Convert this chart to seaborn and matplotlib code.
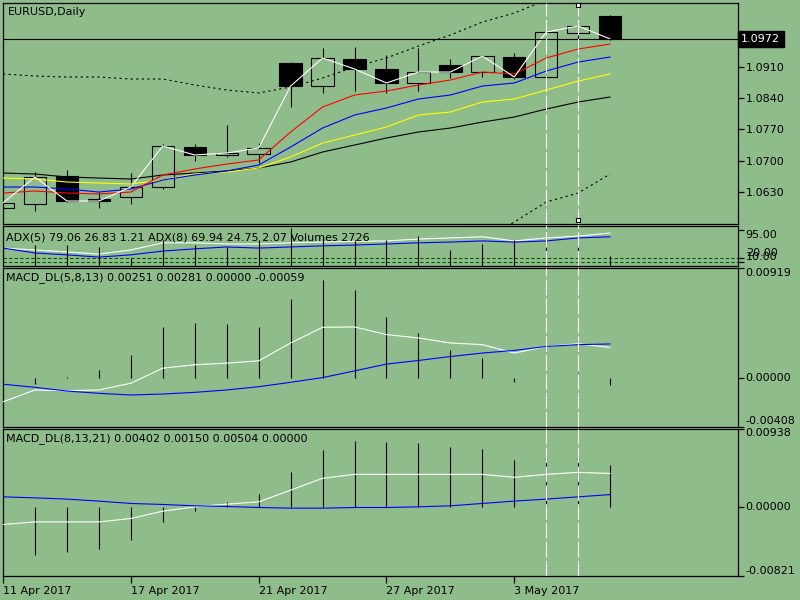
import numpy as np
import matplotlib
matplotlib.use('Agg')
import matplotlib.pyplot as plt
import matplotlib.transforms as mtransforms
import seaborn as sns

# ---------------- data ----------------
dates = ['11 Apr', '12 Apr', '13 Apr', '14 Apr', '17 Apr', '18 Apr', '19 Apr', '20 Apr',
         '21 Apr', '24 Apr', '25 Apr', '26 Apr', '27 Apr', '28 Apr', '1 May', '2 May',
         '3 May', '4 May', '5 May', '8 May']
opens = [1.05940, 1.06030, 1.06656, 1.06142, 1.06187, 1.06410, 1.07304, 1.07126, 1.07148, 1.09183,
         1.08668, 1.09272, 1.09049, 1.08736, 1.09138, 1.08981, 1.09317, 1.08870, 1.09854, 1.10234]
highs = [1.06080, 1.06745, 1.06790, 1.06298, 1.06723, 1.07372, 1.07372, 1.07796, 1.07394, 1.09210,
         1.09518, 1.09540, 1.09362, 1.09518, 1.09272, 1.09362, 1.09406, 1.09880, 1.10032, 1.10256]
lows = [1.05900, 1.05873, 1.06080, 1.05945, 1.06030, 1.06365, 1.06991, 1.07081, 1.06947, 1.08199,
        1.08512, 1.08557, 1.08512, 1.08557, 1.08847, 1.08870, 1.08825, 1.08758, 1.09496, 1.09700]
closes = [1.06052, 1.06634, 1.06097, 1.06097, 1.06410, 1.07327, 1.07126, 1.07170, 1.07282, 1.08668,
          1.09295, 1.09049, 1.08736, 1.08981, 1.08981, 1.09339, 1.08870, 1.09876, 1.10010, 1.09720]

ma_red = [1.06276, 1.06321, 1.06276, 1.06254, 1.06298, 1.06678, 1.06813, 1.06924, 1.07014, 1.07640,
          1.08199, 1.08467, 1.08557, 1.08691, 1.08803, 1.08981, 1.08937, 1.09295, 1.09496, 1.09608]
ma_blue = [1.06410, 1.06410, 1.06365, 1.06298, 1.06365, 1.06567, 1.06678, 1.06768, 1.06902, 1.07304,
           1.07729, 1.08020, 1.08177, 1.08378, 1.08467, 1.08668, 1.08736, 1.09004, 1.09205, 1.09317]
ma_yellow = [1.06611, 1.06589, 1.06522, 1.06500, 1.06477, 1.06567, 1.06701, 1.06745, 1.06835, 1.07081,
             1.07394, 1.07573, 1.07752, 1.08020, 1.08087, 1.08311, 1.08378, 1.08579, 1.08780, 1.08937]
ma_black = [1.06723, 1.06701, 1.06634, 1.06611, 1.06589, 1.06678, 1.06723, 1.06768, 1.06835, 1.06969,
            1.07193, 1.07349, 1.07506, 1.07640, 1.07729, 1.07863, 1.07975, 1.08154, 1.08311, 1.08423]
band_upper = [1.08937, 1.08892, 1.08870, 1.08870, 1.08825, 1.08825, 1.08691, 1.08579, 1.08512, 1.08646,
              1.08847, 1.09093, 1.09295, 1.09563, 1.09809, 1.10099, 1.10301, 1.10591, 1.10770, 1.10949]
band_lower_idx = [15, 16, 17, 18, 19]
band_lower = [1.05225, 1.05627, 1.06075, 1.06276, 1.06701]
last_price = 1.0972
price_ticks = [1.0630, 1.0700, 1.0770, 1.0840, 1.0910]

adx5 = [47, 42, 37, 31, 42, 61, 61, 58, 58, 61, 63, 65, 66, 71, 74, 77, 66, 74, 79, 87]
adx8 = [47, 34, 29, 23, 29, 39, 45, 50, 47, 50, 53, 55, 58, 61, 63, 66, 63, 66, 74, 77]
volumes = [5700, 5720, 5720, 5180, 2180, 7090, 5720, 5180, 7090, 10360,
           7630, 7090, 7090, 8180, 4360, 6000, 7090, 8450, 7630, 2726]
adx_levels = [20, 10]

macd1_main = [-0.00202, -0.00103, -0.00109, -0.00103, -0.00047, 0.00079, 0.00107, 0.00121, 0.00140, 0.00289,
              0.00420, 0.00423, 0.00359, 0.00331, 0.00289, 0.00275, 0.00205, 0.00260, 0.00283, 0.00251]
macd1_signal = [-0.00055, -0.00081, -0.00112, -0.00131, -0.00145, -0.00137, -0.00123, -0.00103, -0.00076, -0.00039,
                0.00000, 0.00056, 0.00113, 0.00143, 0.00176, 0.00205, 0.00227, 0.00260, 0.00275, 0.00281]
macd1_hist = [0.0, -0.00050, 0.00003, 0.00067, 0.00185, 0.00420, 0.00453, 0.00445, 0.00420, 0.00655,
              0.00815, 0.00730, 0.00507, 0.00370, 0.00227, 0.00160, -0.00040, 0.00023, 0.00037, -0.00059]

macd2_main = [-0.00207, -0.00176, -0.00176, -0.00176, -0.00135, -0.00048, 0.00004, 0.00036, 0.00063, 0.00203,
              0.00344, 0.00391, 0.00391, 0.00391, 0.00391, 0.00391, 0.00356, 0.00391, 0.00415, 0.00402]
macd2_signal = [0.00123, 0.00111, 0.00096, 0.00072, 0.00044, 0.00032, 0.00016, 0.00008, -0.00004, -0.00012,
                -0.00012, -0.00004, -0.00004, 0.00004, 0.00016, 0.00044, 0.00072, 0.00096, 0.00123, 0.00150]
macd2_hist = [0.0, -0.00566, -0.00535, -0.00495, -0.00395, -0.00176, -0.00048, 0.00056, 0.00156, 0.00415,
              0.00682, 0.00790, 0.00774, 0.00762, 0.00714, 0.00690, 0.00563, 0.00595, 0.00595, 0.00504]

time_tick_idx = [0, 4, 8, 12, 16]
time_tick_labels = ['11 Apr 2017', '17 Apr 2017', '21 Apr 2017', '27 Apr 2017', '3 May 2017']
vline_idx = [17, 18]

# ---------------- style ----------------
BG = '#8fbc8b'
sns.set_style('white')
plt.rcParams['font.family'] = ['DejaVu Sans']
plt.rcParams['font.size'] = 8

fig = plt.figure(figsize=(8, 6), dpi=100, facecolor=BG)
L, W = 3 / 800, 735 / 800


def mkax(top, bot):
    return fig.add_axes([L, 1 - bot / 600, W, (bot - top) / 600])


ax_p = mkax(2.5, 223.5)
ax_a = mkax(225.5, 266)
ax_m1 = mkax(267.5, 426.5)
ax_m2 = mkax(428.5, 576)
axes = [ax_p, ax_a, ax_m1, ax_m2]
x = np.arange(len(dates))
LW = 0.8

# volume twin (created first so the ADX axis can keep its right-side scale)
axv = ax_a.twinx()

for ax in axes:
    ax.set_facecolor(BG)
    ax.set_xlim(0, 23.0)
    for s in ax.spines.values():
        s.set_color('black')
        s.set_linewidth(0.9)
    ax.yaxis.set_ticks_position('right')
    ax.tick_params(axis='y', direction='out', length=4, width=0.9, pad=1.5,
                   labelsize=8, colors='black', left=False, labelleft=False,
                   right=True, labelright=True)
    ax.tick_params(axis='x', bottom=False, labelbottom=False)

# ---------------- price panel ----------------
o = np.array(opens); c = np.array(closes)
ax_p.vlines(x, lows, highs, color='black', lw=LW, zorder=1)
bull = c >= o
ax_p.bar(x, np.maximum(np.abs(c - o), 0.00003), bottom=np.minimum(o, c), width=0.7,
         color=[BG if b else 'black' for b in bull], edgecolor='black', linewidth=LW, zorder=2)
sns.lineplot(x=x, y=band_upper, ax=ax_p, color='black', linewidth=LW, linestyle=(0, (2, 3)), zorder=3)
sns.lineplot(x=band_lower_idx, y=band_lower, ax=ax_p, color='black', linewidth=LW, linestyle=(0, (2, 3)), zorder=3)
for vals, col in [(ma_black, 'black'), (ma_yellow, '#ffff00'), (ma_blue, '#0000ff'), (ma_red, '#ff0000')]:
    sns.lineplot(x=x, y=vals, ax=ax_p, color=col, linewidth=LW, zorder=3)
sns.lineplot(x=x, y=closes, ax=ax_p, color='white', linewidth=LW, zorder=4)
ax_p.axhline(last_price, color='black', lw=LW, zorder=4)
ax_p.set_ylim(1.05594, 1.10536)
ax_p.set_yticks(price_ticks)
ax_p.set_yticklabels([f'{v:.4f}' for v in price_ticks])
tr = mtransforms.blended_transform_factory(ax_p.transAxes, ax_p.transData)
ax_p.text(1.0045, last_price, f'{last_price:.4f}', transform=tr, ha='left', va='center',
          color='white', fontsize=8, zorder=10, clip_on=False,
          bbox=dict(boxstyle='square,pad=0.3', fc='black', ec='black'))

# ---------------- ADX panel ----------------
ax_a.set_ylim(-0.6, 107)
for lv in adx_levels:
    ax_a.axhline(lv, color='#005a00', lw=LW, linestyle=(0, (3, 2)), zorder=1)
sns.lineplot(x=x, y=adx5, ax=ax_a, color='white', linewidth=LW, zorder=3)
sns.lineplot(x=x, y=adx8, ax=ax_a, color='#0000ff', linewidth=LW, zorder=3)
adx_ticks = [10, 20, 95]
ax_a.set_yticks(adx_ticks)
ax_a.set_yticklabels([f'{v:.2f}' for v in adx_ticks])
for lab, va in zip(ax_a.get_yticklabels(), ['bottom', 'bottom', 'top']):
    lab.set_va(va)
axv.set_ylim(0, 11040)
axv.set_xlim(0, 23.0)
axv.vlines(x, 0, volumes, color='black', lw=LW)
axv.set_yticks([])
axv.tick_params(axis='both', left=False, right=False, labelleft=False, labelright=False,
                bottom=False, labelbottom=False)
for s in axv.spines.values():
    s.set_visible(False)

# ---------------- MACD panels ----------------
def macd_panel(ax, main, sig, hist, lo, hi):
    ax.vlines(x, 0, hist, color='black', lw=LW, zorder=2)
    sns.lineplot(x=x, y=main, ax=ax, color='white', linewidth=LW, zorder=3)
    sns.lineplot(x=x, y=sig, ax=ax, color='#0000ff', linewidth=LW, zorder=3)
    ax.set_ylim(lo, hi)
    ticks = [lo, 0.0, hi]
    ax.set_yticks(ticks)
    ax.set_yticklabels([f'{v:.5f}' for v in ticks])
    for lab, va in zip(ax.get_yticklabels(), ['bottom', 'center', 'top']):
        lab.set_va(va)


macd_panel(ax_m1, macd1_main, macd1_signal, macd1_hist, -0.00408, 0.00919)
macd_panel(ax_m2, macd2_main, macd2_signal, macd2_hist, -0.00821, 0.00938)

ax_m2.set_xticks(time_tick_idx)
ax_m2.set_xticklabels(time_tick_labels)
ax_m2.tick_params(axis='x', bottom=True, labelbottom=True, direction='out', length=5,
                  width=0.9, pad=2, labelsize=8, colors='black')
for lab in ax_m2.get_xticklabels():
    lab.set_ha('left')

for ax in axes:
    ax.set_xlabel(''); ax.set_ylabel('')
    for vi in vline_idx:
        ax.axvline(vi, color='white', lw=LW, linestyle=(0, (14, 3)), zorder=6)
axv.set_ylabel('')
for vi in vline_idx:
    axv.axvline(vi, color='white', lw=LW, linestyle=(0, (14, 3)), zorder=6)
trs = mtransforms.blended_transform_factory(ax_p.transData, ax_p.transAxes)
ax_p.plot([vline_idx[1], vline_idx[1]], [0.9887, 0.0158], linestyle='none', marker='s',
          markersize=3.2, mfc='white', mec='black', mew=0.8, transform=trs, clip_on=False, zorder=11)

# ---------------- texts ----------------
fig.text(8 / 800, 1 - 12 / 600, 'EURUSD,Daily', ha='left', va='center', fontsize=8, color='black')
fig.text(6 / 800, 1 - 237 / 600, 'ADX(5) 79.06 26.83 1.21 ADX(8) 69.94 24.75 2.07 Volumes 2726',
         ha='left', va='center', fontsize=8, color='black')
fig.text(6 / 800, 1 - 278 / 600, 'MACD_DL(5,8,13) 0.00251 0.00281 0.00000 -0.00059',
         ha='left', va='center', fontsize=8, color='black')
fig.text(6 / 800, 1 - 439 / 600, 'MACD_DL(8,13,21) 0.00402 0.00150 0.00504 0.00000',
         ha='left', va='center', fontsize=8, color='black')

fig.savefig('out.png', dpi=100, facecolor=BG)
